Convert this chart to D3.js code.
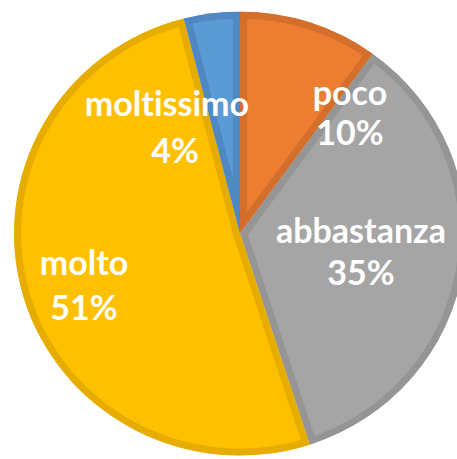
<!DOCTYPE html>
<html>
<head>
<meta charset="utf-8">
<script src="https://cdn.jsdelivr.net/npm/d3@7"></script>
<style>
  html, body { margin: 0; padding: 0; background: #ffffff; }
  svg { display: block; }
  text { font-variant-ligatures: none; font-feature-settings: "liga" 0, "clig" 0; }
</style>
</head>
<body>
<svg id="chart" width="457" height="459"></svg>
<script>
// ---- data ----
const categories = ["poco", "abbastanza", "molto", "moltissimo"];
const values = [10, 35, 51, 4];
const percentLabels = ["10%", "35%", "51%", "4%"];

// ---- style / layout ----
const fills = ["#ED7D31", "#A5A5A5", "#FFC000", "#5B9BD5"];
const borders = ["#D36F2B", "#959595", "#E6AD00", "#5089C1"];
const cx = 240, cy = 233.5, r = 222, sx = 226 / 222;
// label anchors (name baseline, percent baseline), in page pixels
const labelAnchors = [
  { x: 350, y1: 105, y2: 145 },
  { x: 361, y1: 243, y2: 285 },
  { x: 84,  y1: 275, y2: 320 },
  { x: 167, y1: 116, y2: 163, x2: 175 }
];

const svg = d3.select("#chart");
svg.append("rect").attr("width", 457).attr("height", 459).attr("fill", "#fff");

const pie = d3.pie().sort(null).value(d => d.v);
const data = categories.map((c, i) => ({ c, v: values[i], i }));
const arcs = pie(data);
const arc = d3.arc().innerRadius(0).outerRadius(r);

const g = svg.append("g").attr("transform", `translate(${cx},${cy}) scale(${sx},1)`);
const defs = svg.append("defs");

arcs.forEach((a, k) => {
  defs.append("clipPath").attr("id", "clip" + k)
    .append("path").attr("d", arc(a));
});

g.selectAll("path.slice")
  .data(arcs)
  .join("path")
  .attr("class", "slice")
  .attr("d", arc)
  .attr("fill", (d, k) => fills[k])
  .attr("stroke", (d, k) => borders[k])
  .attr("stroke-width", 14)
  .attr("stroke-linejoin", "miter")
  .attr("clip-path", (d, k) => `url(#clip${k})`);

const lg = svg.append("g")
  .attr("font-family", "Lato, 'Open Sans', sans-serif")
  .attr("font-weight", "bold")
  .attr("font-size", 34)
  .attr("fill", "#ffffff")
  .attr("text-anchor", "middle");

arcs.forEach((a, k) => {
  const p = labelAnchors[k];
  lg.append("text").attr("x", p.x).attr("y", p.y1).text(categories[k]);
  lg.append("text").attr("x", p.x2 !== undefined ? p.x2 : p.x).attr("y", p.y2).text(percentLabels[k]);
});
</script>
</body>
</html>
